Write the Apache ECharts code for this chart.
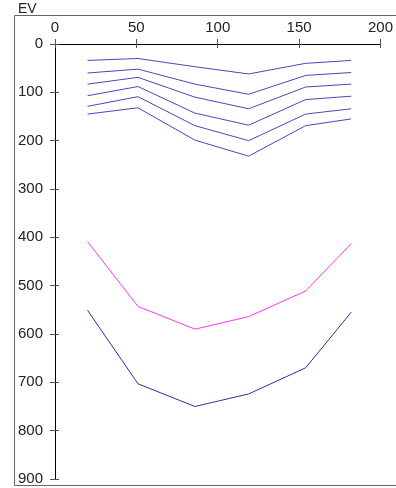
<!DOCTYPE html>
<html><head><meta charset="utf-8">
<script src="https://cdn.jsdelivr.net/npm/echarts@6/dist/echarts.min.js"></script>
<style>html,body{margin:0;padding:0;background:#fff}#c{width:396px;height:488px}</style>
</head><body><div id="c"></div>
<script>
var xValues = [20, 51, 86, 119, 154, 182];
var xTicks = [0, 50, 100, 150, 200];
var yTicks = [0, 100, 200, 300, 400, 500, 600, 700, 800, 900];
var blue1 = [34, 30, 47, 62, 40, 34];
var blue2 = [60, 52, 83, 104, 65, 59];
var blue3 = [83, 69, 110, 134, 89, 83];
var blue4 = [107, 88, 143, 168, 115, 108];
var blue5 = [129, 109, 169, 200, 145, 134];
var blue6 = [145, 132, 199, 232, 169, 155];
var magenta = [409, 543, 590, 564, 511, 413];
var navy = [551, 703, 750, 724, 670, 555];

function pairs(ys){ return ys.map(function(y,i){ return [xValues[i], y]; }); }
function line(name, ys, color){
  return {name:name, type:'line', data:pairs(ys), symbol:'none', silent:true,
    lineStyle:{color:color, width:1}, xAxisIndex:0, yAxisIndex:0};
}
var font = {fontFamily:'Liberation Sans, Arial, sans-serif', fontSize:15, color:'#222'};
var chart = echarts.init(document.getElementById('c'), null, {renderer:'canvas'});
chart.setOption({
  animation:false,
  grid:{left:55, top:44, width:327, height:435, containLabel:false},
  xAxis:[
    {type:'value', position:'top', min:xTicks[0], max:xTicks[xTicks.length-1], interval:50,
     axisLine:{show:true, lineStyle:{color:'#000', width:1}},
     axisTick:{show:true, length:5, lineStyle:{color:'#555'}},
     axisLabel:Object.assign({margin:9}, font), splitLine:{show:false}},
    {type:'value', position:'top', min:0, max:200, interval:50,
     axisLine:{show:false}, axisTick:{show:true, inside:true, length:4, lineStyle:{color:'#555'}},
     axisLabel:{show:false}, splitLine:{show:false}}
  ],
  yAxis:[
    {type:'value', inverse:true, min:yTicks[0], max:yTicks[yTicks.length-1], interval:100,
     axisLine:{show:true, lineStyle:{color:'#000', width:1}},
     axisTick:{show:true, length:5, lineStyle:{color:'#555'}},
     axisLabel:Object.assign({margin:12}, font), splitLine:{show:false}},
    {type:'value', inverse:true, position:'left', min:0, max:900, interval:100,
     axisLine:{show:false}, axisTick:{show:true, inside:true, length:4, lineStyle:{color:'#555'}},
     axisLabel:{show:false}, splitLine:{show:false}}
  ],
  graphic:[
    {type:'rect', shape:{x:14.5, y:15.5, width:400, height:470}, style:{fill:null, stroke:'#666', lineWidth:1}, silent:true},
    {type:'text', left:18, top:2, style:{text:'EV', font:'14px Liberation Sans, Arial, sans-serif', fill:'#222'}}
  ],
  series:[
    line('s1', blue1, '#4848b8'),
    line('s2', blue2, '#4848b8'),
    line('s3', blue3, '#4848b8'),
    line('s4', blue4, '#4848b8'),
    line('s5', blue5, '#4848b8'),
    line('s6', blue6, '#4848b8'),
    line('magenta', magenta, '#ff33ff'),
    line('navy', navy, '#2e2e9e')
  ]
});
</script></body></html>
